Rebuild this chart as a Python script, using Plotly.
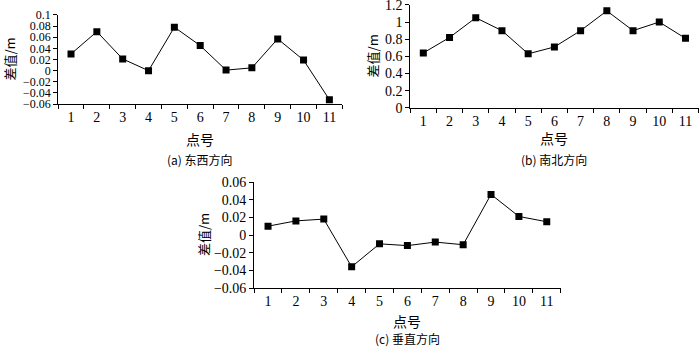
import plotly.graph_objects as go

# point numbers
points = [str(i) for i in range(1, 12)]

# differences (m)
diff_ew = [0.030, 0.070, 0.021, 0.000, 0.078, 0.045, 0.001, 0.005, 0.057, 0.019, -0.052]
diff_ns = [0.64, 0.82, 1.05, 0.90, 0.63, 0.71, 0.90, 1.13, 0.90, 1.00, 0.81]
diff_v = [0.010, 0.016, 0.018, -0.036, -0.010, -0.012, -0.008, -0.011, 0.046, 0.021, 0.015]

captions = ["(a) 东西方向", "(b) 南北方向", "(c) 垂直方向"]
y_title = "差值/m"
x_title = "点号"

serif = "Times New Roman"
cjk = "Noto Sans CJK SC"

fig = go.Figure()

series = [diff_ew, diff_ns, diff_v]
for i, vals in enumerate(series):
    ax = "" if i == 0 else str(i + 1)
    fig.add_trace(go.Scatter(
        x=points, y=vals, mode="lines+markers",
        line=dict(color="black", width=1),
        marker=dict(symbol="square", size=7, color="black"),
        xaxis="x" + ax, yaxis="y" + ax, showlegend=False
    ))

# panel domains (paper coords)
x_dom = [[0.083, 0.489], [0.586, 0.998], [0.363, 0.801]]
y_dom = [[0.700, 0.957], [0.689, 0.986], [0.170, 0.4755]]
y_rng = [[-0.06, 0.10001], [0, 1.20001], [-0.06, 0.06001]]
y_dt = [0.02, 0.2, 0.02]
y_font = [12, 14, 14]

layout = dict(
    width=700, height=347, margin=dict(l=0, r=0, t=0, b=0, autoexpand=False),
    plot_bgcolor="white", paper_bgcolor="white",
    font=dict(family=serif, size=12, color="black"),
)
for i in range(3):
    ax = "" if i == 0 else str(i + 1)
    layout["xaxis" + ax] = dict(
        domain=x_dom[i], anchor="y" + ax, type="category", automargin=False,
        tickson="boundaries", ticks="outside", ticklen=4, tickcolor="black",
        showline=True, linecolor="black", linewidth=1, showgrid=False,
        tickfont=dict(family=serif, size=14), range=[-0.5, 10.5],
        ticklabeloverflow="allow",
    )
    layout["yaxis" + ax] = dict(
        domain=y_dom[i], anchor="x" + ax, range=y_rng[i], dtick=y_dt[i], automargin=False,
        tick0=y_rng[i][0], ticks="outside", ticklen=4, tickcolor="black",
        showline=True, linecolor="black", linewidth=1, showgrid=False,
        zeroline=False, tickfont=dict(family=serif, size=y_font[i]),
        ticklabeloverflow="allow",
    )
fig.update_layout(**layout)

# axis titles and captions (pixel positions converted to paper coords)
ytitle_x = [10, 372, 203]
xlab_y = [139, 138, 321]
cap_y = [159, 159, 338]
for i in range(3):
    cx = (x_dom[i][0] + x_dom[i][1]) / 2 * 700
    fig.add_annotation(x=ytitle_x[i] / 700, y=(y_dom[i][0] + y_dom[i][1]) / 2,
                       xref="paper", yref="paper", xanchor="center", yanchor="middle",
                       text=y_title, textangle=-90,
                       showarrow=False, font=dict(family=cjk, size=13))
    fig.add_annotation(x=cx / 700, y=1 - xlab_y[i] / 347, xref="paper", yref="paper",
                       xanchor="center", yanchor="middle",
                       text=x_title, showarrow=False, font=dict(family=cjk, size=14))
    fig.add_annotation(x=cx / 700, y=1 - cap_y[i] / 347, xref="paper", yref="paper",
                       xanchor="center", yanchor="middle",
                       text=captions[i], showarrow=False, font=dict(family=cjk, size=12))

# drop the default page margin so the figure sits at the top-left corner
fig.write_html("out.html", config={"displayModeBar": False},
               post_script="document.body.style.margin='0';")
